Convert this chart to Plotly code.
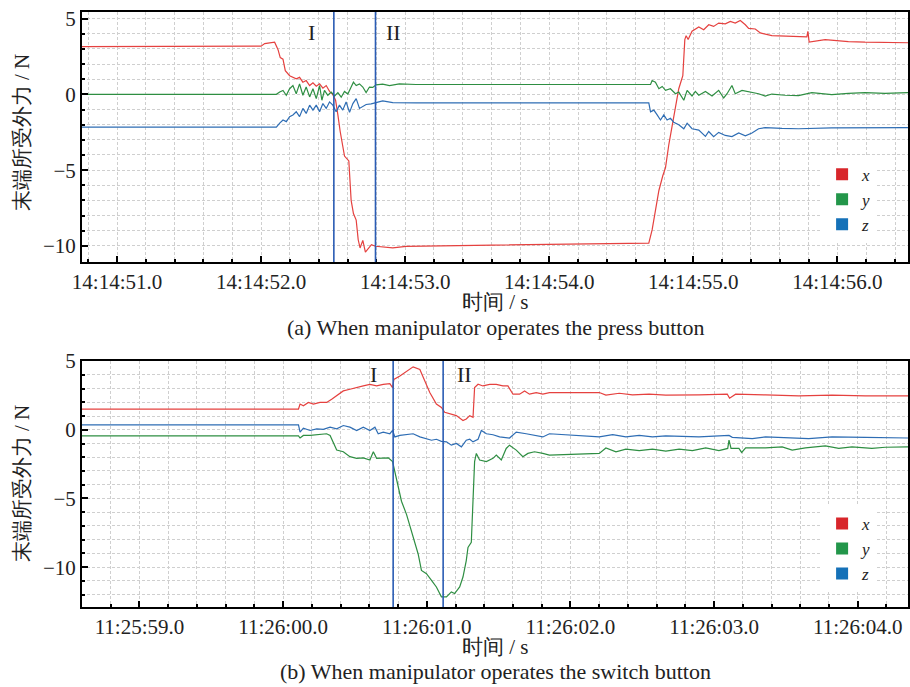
import plotly.graph_objects as go
from datetime import datetime, timedelta

# ---------------- DATA (seconds after the minute, force in N) ----------------
# (a) press button: seconds after 14:14:00
top_x_pts = [(50.75, 3.15), (52.00, 3.18), (52.025, 3.35), (52.094, 3.44), (52.117, 2.96), (52.133, 2.42),
             (52.152, 2.32), (52.168, 1.56), (52.198, 1.23), (52.244, 1.02), (52.267, 1.12), (52.290, 0.80),
             (52.313, 0.91), (52.337, 0.58), (52.360, 0.76), (52.383, 0.54), (52.406, 0.69), (52.429, 0.41),
             (52.452, 0.58), (52.475, 0.20), (52.498, -0.02), (52.517, -0.39), (52.533, -1.36), (52.549, -2.45),
             (52.579, -4.07), (52.609, -4.39), (52.625, -6.99), (52.641, -7.86), (52.660, -8.29), (52.674, -9.59),
             (52.687, -10.13), (52.706, -9.63), (52.724, -10.41), (52.743, -10.19), (52.766, -9.91), (52.794, -10.02),
             (52.844, -10.06), (52.914, -10.13), (53.006, -10.02), (53.306, -9.98), (53.768, -9.91), (54.345, -9.85),
             (54.691, -9.81), (54.714, -8.94), (54.737, -7.64), (54.761, -6.34), (54.788, -5.37), (54.807, -4.83),
             (54.830, -3.31), (54.853, -2.01), (54.876, -0.71), (54.899, 0.37), (54.927, 1.23), (54.941, 3.61),
             (54.950, 3.87), (54.964, 3.61), (54.991, 4.16), (55.038, 4.44), (55.072, 4.26), (55.107, 4.59),
             (55.141, 4.48), (55.176, 4.70), (55.222, 4.65), (55.257, 4.81), (55.291, 4.70), (55.326, 4.87),
             (55.361, 4.59), (55.384, 4.35), (55.430, 4.31), (55.465, 4.05), (55.545, 3.87), (55.638, 3.83),
             (55.788, 3.79), (55.795, 4.16), (55.804, 3.44), (55.915, 3.61), (56.076, 3.48), (56.192, 3.44),
             (56.330, 3.40), (56.50, 3.40)]
top_y_pts = [(50.75, 0.00), (52.106, 0.00), (52.129, 0.15), (52.152, 0.26), (52.175, -0.06), (52.198, 0.37),
             (52.221, 0.58), (52.244, 0.04), (52.267, 0.69), (52.290, -0.06), (52.313, 0.48), (52.337, -0.17),
             (52.360, 0.37), (52.383, -0.28), (52.406, 0.58), (52.422, -0.39), (52.440, 0.26), (52.463, -0.06),
             (52.487, 0.15), (52.510, -0.11), (52.533, 0.11), (52.556, -0.19), (52.579, 0.19), (52.602, 0.02),
             (52.625, 0.48), (52.641, 0.80), (52.660, 0.58), (52.683, 0.69), (52.706, 0.48), (52.729, 0.11),
             (52.752, 0.48), (52.775, 0.46), (52.798, 0.63), (52.844, 0.67), (52.891, 0.58), (52.960, 0.69),
             (53.075, 0.65), (53.999, 0.63), (54.703, 0.65), (54.714, 0.91), (54.737, 0.80), (54.761, 0.37),
             (54.784, 0.52), (54.807, 0.26), (54.841, 0.37), (54.876, 0.04), (54.899, 0.15), (54.934, -0.39),
             (54.957, 0.26), (54.991, -0.11), (55.014, 0.19), (55.038, -0.06), (55.084, 0.19), (55.130, -0.11),
             (55.176, 0.26), (55.211, -0.24), (55.234, 0.04), (55.268, 0.58), (55.291, 0.04), (55.338, 0.26),
             (55.407, 0.15), (55.453, 0.04), (55.499, -0.11), (55.545, 0.02), (55.638, -0.06), (55.730, -0.09),
             (55.822, 0.11), (55.961, -0.02), (56.076, 0.07), (56.192, 0.11), (56.330, 0.07), (56.50, 0.11)]
top_z_pts = [(50.75, -2.16), (52.106, -2.16), (52.129, -1.90), (52.152, -1.69), (52.175, -1.80), (52.198, -1.47),
             (52.221, -1.36), (52.244, -1.15), (52.267, -1.47), (52.290, -0.93), (52.313, -1.26), (52.337, -0.71),
             (52.360, -1.04), (52.383, -0.71), (52.406, -1.15), (52.429, -0.61), (52.452, -0.93), (52.475, -0.50),
             (52.498, -0.71), (52.521, -1.15), (52.544, -0.71), (52.567, -1.04), (52.590, -0.50), (52.614, -1.19),
             (52.637, -0.61), (52.660, -0.28), (52.683, -0.93), (52.706, -0.78), (52.729, -0.67), (52.764, -0.63),
             (52.798, -0.54), (52.844, -0.43), (52.914, -0.54), (53.075, -0.56), (53.999, -0.56), (54.691, -0.56),
             (54.703, -1.15), (54.726, -1.04), (54.749, -1.36), (54.772, -1.69), (54.795, -1.36), (54.818, -1.69),
             (54.841, -1.58), (54.864, -1.84), (54.899, -2.01), (54.934, -2.27), (54.957, -1.90), (54.991, -2.27),
             (55.038, -2.36), (55.084, -2.77), (55.107, -2.45), (55.141, -2.79), (55.176, -2.51), (55.222, -2.71),
             (55.268, -2.79), (55.315, -2.55), (55.361, -2.73), (55.407, -2.55), (55.453, -2.27), (55.499, -2.19),
             (55.615, -2.25), (55.730, -2.27), (55.961, -2.21), (56.192, -2.19), (56.50, -2.19)]
top_marks = [52.505, 52.794]
top_mark_labels = ["I", "II"]
top_label_t = [52.348, 52.918]

# (b) switch button: seconds after 11:25:00
bot_x_pts = [(58.60, 1.51), (60.107, 1.51), (60.118, 1.87), (60.141, 1.75), (60.176, 1.99), (60.211, 1.87),
             (60.257, 1.99), (60.303, 1.99), (60.338, 2.23), (60.373, 2.47), (60.419, 2.83), (60.465, 2.95),
             (60.512, 3.05), (60.558, 3.19), (60.604, 3.31), (60.651, 3.19), (60.697, 3.31), (60.743, 3.36),
             (60.762, 3.07), (60.771, 3.67), (60.813, 3.91), (60.859, 4.27), (60.905, 4.58), (60.952, 4.39),
             (60.975, 3.79), (61.021, 2.71), (61.067, 1.87), (61.102, 1.63), (61.125, 1.27), (61.160, 1.15),
             (61.206, 1.03), (61.252, 0.67), (61.275, 0.79), (61.299, 1.03), (61.322, 0.91), (61.333, 3.07),
             (61.357, 3.31), (61.391, 3.19), (61.438, 3.31), (61.484, 3.31), (61.530, 3.19), (61.565, 3.19),
             (61.600, 2.59), (61.646, 2.59), (61.681, 2.83), (61.715, 2.59), (61.762, 2.71), (61.808, 2.59),
             (61.854, 2.71), (62.201, 2.71), (62.247, 2.52), (62.340, 2.66), (62.432, 2.54), (62.548, 2.59),
             (62.664, 2.52), (62.895, 2.54), (63.092, 2.59), (63.108, 2.30), (63.150, 2.59), (63.358, 2.54),
             (63.590, 2.47), (63.821, 2.52), (64.053, 2.47), (64.36, 2.47)]
bot_y_pts = [(58.60, -0.45), (60.107, -0.45), (60.118, -0.60), (60.141, -0.41), (60.188, -0.41), (60.234, -0.36),
             (60.303, -0.29), (60.327, -0.41), (60.350, -1.00), (60.373, -1.48), (60.419, -1.60), (60.465, -1.96),
             (60.512, -2.08), (60.558, -2.04), (60.604, -2.20), (60.628, -1.60), (60.651, -2.08), (60.697, -2.08),
             (60.732, -2.04), (60.762, -2.32), (60.778, -3.04), (60.801, -4.24), (60.824, -5.20), (60.859, -6.16),
             (60.905, -7.84), (60.940, -9.04), (60.963, -10.24), (60.998, -10.48), (61.033, -10.96), (61.067, -11.44),
             (61.102, -12.16), (61.137, -12.16), (61.171, -11.80), (61.194, -11.92), (61.229, -11.44), (61.252, -10.72),
             (61.275, -9.52), (61.287, -8.56), (61.310, -8.20), (61.322, -4.48), (61.333, -2.32), (61.345, -1.72),
             (61.368, -2.20), (61.415, -2.32), (61.461, -2.08), (61.484, -1.84), (61.519, -2.20), (61.553, -1.36),
             (61.576, -1.12), (61.623, -1.48), (61.669, -1.96), (61.704, -1.72), (61.750, -1.60), (61.808, -1.72),
             (61.854, -1.84), (62.201, -1.72), (62.247, -1.32), (62.317, -1.60), (62.386, -1.41), (62.479, -1.51),
             (62.571, -1.41), (62.664, -1.56), (62.757, -1.41), (62.849, -1.51), (62.942, -1.32), (63.034, -1.51),
             (63.095, -1.36), (63.104, -0.76), (63.118, -1.36), (63.173, -1.36), (63.192, -1.65), (63.220, -1.32),
             (63.358, -1.32), (63.474, -1.24), (63.544, -1.48), (63.636, -1.32), (63.775, -1.17), (63.868, -1.36),
             (63.960, -1.24), (64.099, -1.36), (64.192, -1.27), (64.36, -1.24)]
bot_z_pts = [(58.60, 0.36), (60.107, 0.36), (60.118, -0.17), (60.141, 0.12), (60.188, -0.05), (60.234, 0.07),
             (60.280, 0.03), (60.327, 0.19), (60.373, 0.07), (60.419, 0.31), (60.465, 0.19), (60.512, -0.05),
             (60.558, 0.19), (60.604, -0.05), (60.639, 0.19), (60.662, -0.29), (60.697, -0.17), (60.743, -0.29),
             (60.762, -0.05), (60.778, -0.52), (60.813, -0.41), (60.859, -0.36), (60.905, -0.29), (60.952, -0.52),
             (60.998, -0.64), (61.033, -0.76), (61.067, -0.69), (61.102, -0.84), (61.137, -0.88), (61.171, -1.12),
             (61.206, -1.00), (61.241, -1.24), (61.275, -0.76), (61.299, -0.69), (61.322, -0.88), (61.357, -0.69),
             (61.380, -0.05), (61.415, -0.29), (61.461, -0.36), (61.507, -0.52), (61.576, -0.60), (61.623, -0.17),
             (61.692, -0.29), (61.762, -0.41), (61.808, -0.52), (61.854, -0.29), (62.201, -0.52), (62.294, -0.36),
             (62.386, -0.52), (62.479, -0.41), (62.571, -0.52), (62.664, -0.45), (62.895, -0.52), (63.104, -0.41),
             (63.127, -0.55), (63.266, -0.64), (63.358, -0.52), (63.659, -0.64), (63.821, -0.52), (64.053, -0.55),
             (64.36, -0.60)]
bot_marks = [60.766, 61.114]
bot_mark_labels = ["I", "II"]
bot_label_t = [60.632, 61.264]

series_names = ["x", "y", "z"]
series_colors = ["#e5413f", "#2e8e42", "#2e6db4"]
legend_colors = ["#d8262b", "#23964a", "#1571b8"]

BASE_A = datetime(2021, 1, 1, 14, 14, 0)
BASE_B = datetime(2021, 1, 1, 11, 25, 0)
range_a = (50.757, 56.49)
range_b = (58.60, 64.35)


def tt(base, s):
    return base + timedelta(seconds=s)


fig = go.Figure()

panels = [
    ("x", "y", "legend", BASE_A, [top_x_pts, top_y_pts, top_z_pts]),
    ("x2", "y2", "legend2", BASE_B, [bot_x_pts, bot_y_pts, bot_z_pts]),
]
for xa, ya, lg, base, sets in panels:
    for pts, col in zip(sets, series_colors):
        fig.add_trace(go.Scatter(x=[tt(base, p[0]) for p in pts], y=[p[1] for p in pts],
                                 mode="lines", line=dict(color=col, width=1.2),
                                 xaxis=xa, yaxis=ya, showlegend=False, hoverinfo="skip"))
    for nm, col in zip(series_names, legend_colors):
        fig.add_trace(go.Scatter(x=[None], y=[None], mode="markers", name=nm,
                                 marker=dict(symbol="square", size=14, color=col),
                                 xaxis=xa, yaxis=ya, legend=lg, showlegend=True))

GRID = "#cfcfcf"
TXT = "#222222"
SERIF = "Liberation Serif"
GDASH = "3px,2px"


def xax(base, rng, anchor):
    return dict(type="date", range=[tt(base, rng[0]), tt(base, rng[1])], anchor=anchor,
                tickformat="%H:%M:%S.%1f", dtick=1000, ticks="inside", ticklen=6, tickwidth=1.5,
                tickcolor="black", showline=True, linecolor="black", linewidth=2, mirror=True,
                showgrid=True, gridcolor=GRID, griddash=GDASH, gridwidth=1, zeroline=False,
                tickfont=dict(family=SERIF, size=21, color=TXT),
                minor=dict(dtick=200, showgrid=True, gridcolor=GRID, griddash=GDASH,
                           ticks="inside", ticklen=3, tickcolor="black"))


def yax(rng, dom, anchor):
    return dict(range=list(rng), domain=dom, anchor=anchor, dtick=5, tick0=0, ticks="inside",
                ticklen=6, tickwidth=1.5, tickcolor="black", showline=True, linecolor="black",
                linewidth=2, mirror=True, showgrid=True, gridcolor=GRID, griddash=GDASH,
                zeroline=False, tickfont=dict(family=SERIF, size=21, color=TXT),
                minor=dict(dtick=1, showgrid=True, gridcolor=GRID, griddash=GDASH,
                           ticks="inside", ticklen=3, tickcolor="black"))


shapes = []
annotations = []
for xa, ya, base, marks, labels, lt, lv in [("x", "y", BASE_A, top_marks, top_mark_labels, top_label_t, 4.05),
                                           ("x2", "y2", BASE_B, bot_marks, bot_mark_labels, bot_label_t, 4.03)]:
    for m in marks:
        shapes.append(dict(type="line", xref=xa, yref=ya + " domain", x0=tt(base, m), x1=tt(base, m),
                           y0=0, y1=1, line=dict(color="#2a5cb4", width=1.6)))
    for lab, t in zip(labels, lt):
        annotations.append(dict(xref=xa, yref=ya, x=tt(base, t), y=lv, text=lab, showarrow=False,
                                xanchor="center", yanchor="middle",
                                font=dict(family=SERIF, size=22, color=TXT)))

for yc in [0.798, 0.208]:
    annotations.append(dict(xref="paper", yref="paper", x=-0.0725, y=yc, text="末端所受外力 / N",
                            textangle=-90, showarrow=False, xanchor="center", yanchor="middle",
                            font=dict(family=SERIF, size=21, color=TXT)))
for yc in [0.513, -0.068]:
    annotations.append(dict(xref="paper", yref="paper", x=0.501, y=yc, text="时间 / s",
                            showarrow=False, xanchor="center", yanchor="middle",
                            font=dict(family=SERIF, size=21, color=TXT)))
for yc, txt in [(0.47, "(a) When manipulator operates the press button"),
                (-0.108, "(b) When manipulator operates the switch button")]:
    annotations.append(dict(xref="paper", yref="paper", x=0.501, y=yc, text=txt,
                            showarrow=False, xanchor="center", yanchor="middle",
                            font=dict(family=SERIF, size=22, color=TXT)))

leg_common = dict(xanchor="left", yanchor="top", bgcolor="white", borderwidth=0,
                  font=dict(family=SERIF, size=17, style="italic", color=TXT),
                  itemsizing="constant", tracegroupgap=0)

fig.update_layout(
    width=910, height=687,
    margin=dict(l=82, r=0, t=7, b=80),
    paper_bgcolor="white", plot_bgcolor="white",
    xaxis=xax(BASE_A, range_a, "y"),
    yaxis=yax((-11.05, 5.43), [0.58, 1.0], "x"),
    xaxis2=xax(BASE_B, range_b, "y2"),
    yaxis2=yax((-12.9, 5.0), [0.0, 0.4133], "x2"),
    legend=dict(x=0.896, y=0.757, **leg_common),
    legend2=dict(x=0.896, y=0.170, **leg_common),
    shapes=shapes, annotations=annotations,
)

fig.write_html("out.html")
